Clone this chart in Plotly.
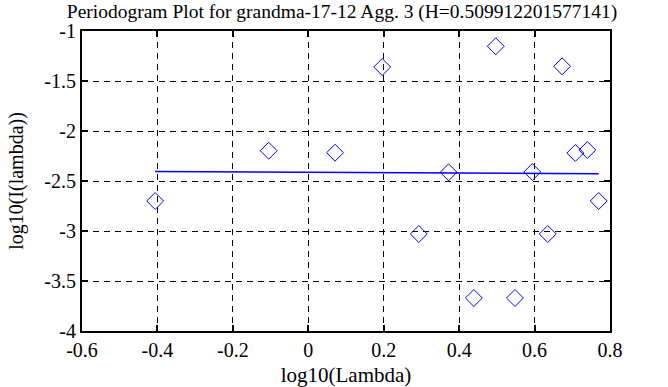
import plotly.graph_objects as go

title_text = "Periodogram Plot for grandma-17-12 Agg. 3 (H=0.509912201577141)"
x_label = "log10(Lambda)"
y_label = "log10(I(lambda))"

log_lambda = [-0.406, -0.105, 0.071, 0.196, 0.293, 0.372, 0.439, 0.497,
              0.548, 0.594, 0.635, 0.673, 0.708, 0.740, 0.770]
log_periodogram = [-2.70, -2.197, -2.217, -1.36, -3.03, -2.413, -3.67, -1.153,
                   -3.67, -2.41, -3.03, -1.353, -2.22, -2.19, -2.70]

fit_x = [-0.406, 0.770]
fit_y = [-2.404, -2.427]

x_tickvals = [-0.6, -0.4, -0.2, 0, 0.2, 0.4, 0.6, 0.8]
x_ticktext = ["-0.6", "-0.4", "-0.2", "0", "0.2", "0.4", "0.6", "0.8"]
y_tickvals = [-1, -1.5, -2, -2.5, -3, -3.5, -4]
y_ticktext = ["-1", "-1.5", "-2", "-2.5", "-3", "-3.5", "-4"]

font_family = "Liberation Serif, Times New Roman, serif"

fig = go.Figure()
fig.add_trace(go.Scatter(
    x=log_lambda, y=log_periodogram, mode="markers",
    marker=dict(symbol="diamond-open", size=13, color="#0000ff",
                line=dict(width=1, color="#0000ff")),
    showlegend=False))
fig.add_trace(go.Scatter(
    x=fit_x, y=fit_y, mode="lines",
    line=dict(color="#0000ff", width=1.5), showlegend=False))

axis_common = dict(
    showline=True, linecolor="black", linewidth=2, mirror="ticks",
    ticks="inside", ticklen=6, tickwidth=1.5, tickcolor="black",
    showgrid=True, gridcolor="black", gridwidth=1, griddash="6px,5px",
    zeroline=False, automargin=False,
    tickfont=dict(family=font_family, size=20, color="black"),
)

fig.update_xaxes(range=[-0.6, 0.8], tickvals=x_tickvals, ticktext=x_ticktext,
                 title=dict(text=x_label, font=dict(family=font_family, size=21, color="black")),
                 **axis_common)
fig.update_yaxes(range=[-4, -1], tickvals=y_tickvals, ticktext=y_ticktext,
                 title=dict(text=y_label, font=dict(family=font_family, size=20, color="black")),
                 **axis_common)

fig.update_layout(
    width=668, height=387,
    margin=dict(l=82, r=58, t=31, b=56),
    plot_bgcolor="white", paper_bgcolor="white",
    title=dict(text=title_text, x=0.512, xanchor="center", y=0.99, yanchor="top",
               font=dict(family=font_family, size=19.5, color="black")),
)

fig.write_html("out.html",
               config={"displayModeBar": False},
               post_script="document.body.style.margin='0';document.body.style.padding='0';")
